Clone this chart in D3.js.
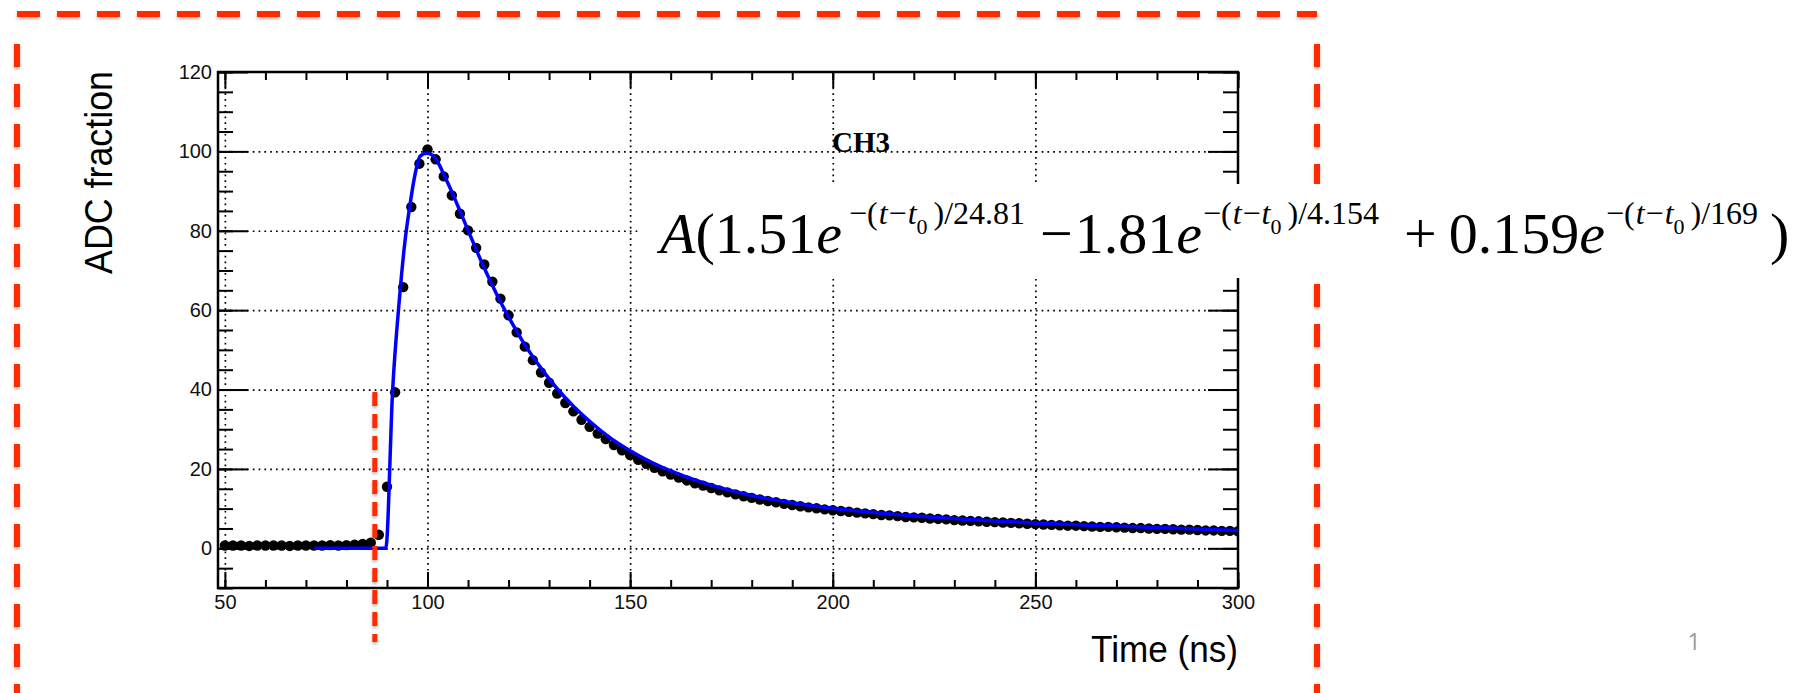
<!DOCTYPE html>
<html><head><meta charset="utf-8">
<script src="https://cdn.jsdelivr.net/npm/d3@7"></script>
<style>html,body{margin:0;padding:0;background:#fff;overflow:hidden}</style>
</head><body><svg id="c" width="1799" height="693" style="background:#fff"></svg>
<script>
// ---------- data ----------
const timeNs = [50,52,54,56,58,60,62,64,66,68,70,72,74,76,78,80,82,84,86,88,90,92,94,96,98,100,
 102,104,106,108,110,112,114,116,118,120,122,124,126,128,130,132,134,136,138,140,142,144,146,148,150,
 152,154,156,158,160,162,164,166,168,170,172,174,176,178,180,182,184,186,188,190,192,194,196,198,200,
 202,204,206,208,210,212,214,216,218,220,222,224,226,228,230,232,234,236,238,240,242,244,246,248,250,
 252,254,256,258,260,262,264,266,268,270,272,274,276,278,280,282,284,286,288,290,292,294,296,298,300];
const adcFraction = [0.7,0.7,0.7,0.6,0.7,0.7,0.7,0.7,0.6,0.7,0.7,0.7,0.7,0.8,0.7,0.8,0.9,1.1,1.4,3.4,15.5,39.3,65.8,86.0,96.9,100.5,
 98.0,93.7,88.9,84.3,80.1,75.7,71.5,67.2,62.9,58.7,54.4,50.8,47.4,44.3,41.7,39.0,36.6,34.5,32.4,30.6,28.9,27.5,26.0,24.7,23.5,
 22.3,21.3,20.3,19.4,18.6,17.8,17.1,16.4,15.8,15.2,14.6,14.1,13.6,13.1,12.7,12.3,11.9,11.6,11.2,10.9,10.6,10.3,10.1,9.8,9.6,
 9.4,9.2,9.0,8.8,8.6,8.4,8.3,8.1,7.9,7.8,7.7,7.5,7.4,7.3,7.1,7.0,6.9,6.8,6.7,6.6,6.5,6.4,6.3,6.2,6.1,
 6.0,5.9,5.8,5.7,5.7,5.6,5.5,5.4,5.4,5.3,5.2,5.1,5.1,5.0,4.9,4.9,4.8,4.7,4.7,4.6,4.5,4.5,4.4,4.4,4.3];
const fitTime  = [72,89.7,91.4,93.0,94.4,95.6,96.7,98.2,99.8,101.3,102.8,104.2,106,108,110,112,114,116,118,120,124,128,132,136,140,145,150,155,160,170,180,190,200,215,230,250,270,300];
const fitValue = [0,0,40,62,77,86,93,98.8,99.5,99.0,96.8,93.8,89.8,85.0,80.1,75.3,70.6,66.3,62.1,58.3,51.3,45.4,40.2,35.8,32.0,27.9,24.6,21.8,19.5,15.9,13.3,11.5,10.1,8.6,7.5,6.4,5.6,4.5];
const xTickValues = [50,100,150,200,250,300];
const yTickValues = [0,20,40,60,80,100,120];
const xGridValues = [50,100,150,200,250];
const yGridValues = [0,20,40,60,80,100];
const xTitle = "Time (ns)";
const yTitle = "ADC fraction";
const channelLabel = "CH3";
const t0Marker = 87;  // red dashed marker time (ns)

// ---------- layout ----------
const svg = d3.select('#c');
const L = 218, R = 1238, T = 72, B = 588;
const x = d3.scaleLinear().domain([48.3, 300]).range([L, R]);
const y = d3.scaleLinear().domain([-10, 120]).range([B, T]);
const RED = '#ff2a00';

const defs = svg.append('defs');
defs.append('filter').attr('id','sh').attr('filterUnits','userSpaceOnUse')
  .attr('x',0).attr('y',0).attr('width',1799).attr('height',693)
  .append('feDropShadow').attr('dx',0).attr('dy',2).attr('stdDeviation',1.6)
  .attr('flood-color','#000').attr('flood-opacity',0.3);
defs.append('clipPath').attr('id','frame').append('rect')
  .attr('x',L).attr('y',T).attr('width',R-L).attr('height',B-T);

// red dashed box
const box = svg.append('g').attr('filter','url(#sh)')
  .attr('stroke',RED).attr('stroke-width',6).attr('stroke-dasharray','23,17');
box.append('line').attr('x1',17).attr('y1',14).attr('x2',1317).attr('y2',14);
box.append('line').attr('x1',17).attr('y1',44).attr('x2',17).attr('y2',700);
box.append('line').attr('x1',1317).attr('y1',44).attr('x2',1317).attr('y2',700);

// grid
function styleGrid(g){
  g.select('.domain').remove();
  g.selectAll('line').attr('stroke','#000').attr('stroke-width',1.7).attr('stroke-dasharray','1.7,4.1');
}
svg.append('g').attr('transform',`translate(0,${B})`)
  .call(d3.axisBottom(x).tickValues(xGridValues).tickSize(-(B-T)).tickFormat(''))
  .call(styleGrid);
svg.append('g').attr('transform',`translate(${L},0)`)
  .call(d3.axisLeft(y).tickValues(yGridValues).tickSize(-(R-L)).tickFormat(''))
  .call(styleGrid);

// ticks
function styleTicks(g){
  g.select('.domain').remove();
  g.selectAll('line').attr('stroke','#000').attr('stroke-width',2);
  g.selectAll('text').attr('font-family','"Liberation Sans", Arial, sans-serif')
    .attr('font-size',20).attr('fill','#111');
  g.attr('font-size',null).attr('font-family',null);
}
const xMinor = d3.range(50, 301, 10), yMinor = d3.range(-10, 121, 5);
svg.append('g').attr('transform',`translate(0,${B})`).call(d3.axisBottom(x).tickValues(xMinor).tickSize(-8).tickFormat('')).call(styleTicks);
svg.append('g').attr('transform',`translate(0,${B})`).call(d3.axisBottom(x).tickValues(xTickValues).tickSize(-16).tickPadding(7).tickFormat(d3.format('d'))).call(styleTicks);
svg.append('g').attr('transform',`translate(0,${T})`).call(d3.axisTop(x).tickValues(xMinor).tickSize(-8).tickFormat('')).call(styleTicks);
svg.append('g').attr('transform',`translate(0,${T})`).call(d3.axisTop(x).tickValues(xTickValues).tickSize(-16).tickFormat('')).call(styleTicks);
svg.append('g').attr('transform',`translate(${L},0)`).call(d3.axisLeft(y).tickValues(yMinor).tickSize(-15).tickFormat('')).call(styleTicks);
svg.append('g').attr('transform',`translate(${L},0)`).call(d3.axisLeft(y).tickValues(yTickValues).tickSize(-30).tickPadding(6).tickFormat(d3.format('d'))).call(styleTicks);
svg.append('g').attr('transform',`translate(${R},0)`).call(d3.axisRight(y).tickValues(yMinor).tickSize(-15).tickFormat('')).call(styleTicks);
svg.append('g').attr('transform',`translate(${R},0)`).call(d3.axisRight(y).tickValues(yTickValues).tickSize(-30).tickFormat('')).call(styleTicks);

// frame
svg.append('rect').attr('x',L).attr('y',T).attr('width',R-L).attr('height',B-T)
  .attr('fill','none').attr('stroke','#000').attr('stroke-width',2.5);

// data
const plot = svg.append('g').attr('clip-path','url(#frame)');
plot.selectAll('circle').data(timeNs).join('circle')
  .attr('cx',d=>x(d)).attr('cy',(d,i)=>y(adcFraction[i])).attr('r',5.2).attr('fill','#000');
const fitPts = fitTime.map((t,i)=>[t,fitValue[i]]);
plot.append('path').datum(fitPts)
  .attr('d', d3.line().x(d=>x(d[0])).y(d=>y(d[1])).curve(d3.curveMonotoneX))
  .attr('fill','none').attr('stroke','#0000ff').attr('stroke-width',3.5).attr('stroke-linejoin','round');

// channel label
svg.append('text').attr('x',832).attr('y',152).text(channelLabel)
  .attr('font-family','"Liberation Serif","Times New Roman",serif').attr('font-weight','bold')
  .attr('font-size',29).attr('fill','#000')
  .attr('textLength',58).attr('lengthAdjust','spacingAndGlyphs');

// red t0 marker
svg.append('line').attr('x1',x(t0Marker)).attr('x2',x(t0Marker)).attr('y1',392).attr('y2',642)
  .attr('stroke',RED).attr('stroke-width',5).attr('stroke-dasharray','14,8').attr('filter','url(#sh)');

// axis titles
svg.append('text').text(xTitle).attr('x',R).attr('y',662).attr('text-anchor','end')
  .attr('font-family','"Liberation Sans", Arial, sans-serif').attr('font-size',37).attr('fill','#000')
  .attr('textLength',147).attr('lengthAdjust','spacingAndGlyphs');
svg.append('text').text(yTitle).attr('transform','translate(112,71) rotate(-90)').attr('text-anchor','end')
  .attr('font-family','"Liberation Sans", Arial, sans-serif').attr('font-size',39).attr('fill','#000')
  .attr('textLength',203).attr('lengthAdjust','spacingAndGlyphs');

// formula (white panel)
svg.append('rect').attr('x',640).attr('y',184).attr('width',1160).attr('height',94).attr('fill','#fff');
const F = svg.append('g').attr('font-family','"Liberation Serif","Times New Roman",serif').attr('fill','#000');
const MB = 253, SB = 224, UB = 234, MS = 58, SS = 32, US = 22;
function run(x0, pieces){
  let cx = x0;
  pieces.forEach(p=>{
    cx += (p.gap||0);
    const t = F.append('text').attr('x',cx).attr('y',p.b).attr('font-size',p.s).text(p.t);
    if(p.i) t.attr('font-style','italic');
    cx += t.node().getComputedTextLength();
  });
  return cx;
}
function sup(denom){
  return [{t:'\u2212(',s:SS,b:SB},{t:'t',s:SS,b:SB,i:1,gap:1},{t:'\u2212',s:SS,b:SB,gap:1},{t:'t',s:SS,b:SB,i:1,gap:1},
          {t:'0',s:US,b:UB},{t:')/'+denom,s:SS,b:SB,gap:6}];
}
let e1 = run(660, [{t:'A',s:MS,b:MB,i:1},{t:'(1.51',s:MS,b:MB},{t:'e',s:MS,b:MB,i:1}]);
let e2 = run(Math.max(849, e1+1), sup('24.81'));
let e3 = run(Math.max(1040, e2+3), [{t:'\u2212',s:MS,b:MB},{t:'1.81',s:MS,b:MB,gap:2},{t:'e',s:MS,b:MB,i:1}]);
let e4 = run(Math.max(1195, e3+1), sup('4.154'));
let e5 = run(Math.max(1404, e4+6), [{t:'+',s:MS,b:MB},{t:'0.159',s:MS,b:MB,gap:12},{t:'e',s:MS,b:MB,i:1}]);
let e6 = run(Math.max(1606, e5+1), sup('169'));
run(Math.max(1770, e6+4), [{t:')',s:MS,b:MB}]);

// page number
svg.append('text').text('1').attr('x',1694).attr('y',650).attr('text-anchor','middle')
  .attr('font-family','"Open Sans","Liberation Sans",sans-serif').attr('font-size',23).attr('fill','#999');
</script></body></html>
